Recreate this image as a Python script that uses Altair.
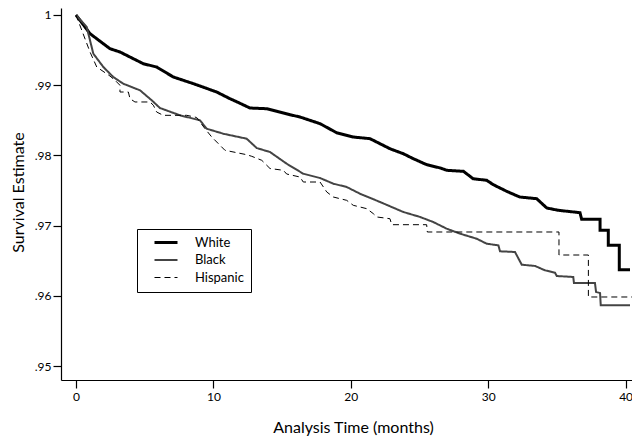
import altair as alt
import pandas as pd

groups = ["White", "Black", "Hispanic"]

white_t = [0, 1.02, 2.47, 3.2, 4.9, 5.87, 7.08, 8.54, 10.24, 11.2, 11.94, 12.66, 13.88, 15.57, 16.3,
           17.76, 18.97, 20.18, 21.4, 22.85, 23.82, 24.55, 25.52, 26.5, 26.98, 28.2, 28.9, 29.89,
           30.37, 31.35, 32.3, 33.53, 34.26, 35.1, 36.68, 36.8, 38.14, 38.14, 38.74, 38.74, 39.54,
           39.54, 40.32]
white_s = [1.0, .99734, .9952, .99473, .99306, .99259, .99117, .99022, .98903, .98808, .98742, .98675,
           .98665, .9858, .98547, .98452, .98323, .98262, .98238, .98095, .98024, .97953, .97868,
           .97821, .97788, .97773, .97668, .97645, .97583, .97488, .97407, .97383, .97251, .97218,
           .97184, .9709, .9709, .96933, .96933, .96719, .96719, .96372, .96372]

black_t = [0, .78, 1.26, 1.99, 2.71, 3.44, 4.66, 5.51, 6.11, 7.57, 9.02, 9.51, 10.72, 12.42, 13.15,
           14.12, 15.33, 16.54, 17.76, 18.73, 19.7, 20.67, 22.13, 23.82, 25.04, 26.0, 26.98, 27.95,
           29.16, 29.89, 30.74, 30.86, 31.95, 32.44, 33.41, 34.13, 34.86, 34.99, 36.19, 36.24, 37.77,
           37.85, 38.14, 38.19, 40.32]
black_s = [1.0, .99829, .99449, .99259, .99117, .99021, .98927, .98785, .98675, .98571, .985, .9838,
           .98309, .98238, .98105, .98048, .97882, .97739, .97678, .97597, .9755, .97454, .97336,
           .97194, .97123, .97051, .96956, .96885, .96813, .96742, .96719, .96634, .96624, .96443,
           .96425, .96363, .96329, .96282, .96268, .96182, .96182, .96054, .9604, .95865, .95865]

hisp_t = [0, 1.02, 1.51, 2.47, 2.84, 3.2, 3.2, 3.81, 3.93, 4.29, 5.39, 5.63, 5.87, 6.35, 8.06, 8.78,
          9.39, 9.88, 10.48, 10.84, 12.42, 12.79, 13.52, 14.12, 15.09, 15.33, 16.3, 16.54, 17.76,
          18.25, 18.73, 19.7, 20.18, 21.16, 21.64, 21.89, 22.85, 22.98, 25.52, 25.57, 35.15, 35.15,
          37.29, 37.29, 40.6]
hisp_s = [1.0, .99473, .99259, .99131, .9907, .98999, .98903, .98903, .98808, .98761, .98761, .98714,
          .98618, .98571, .98571, .9854, .9838, .98262, .98144, .98073, .9801, .97987, .9793, .97813,
          .97788, .97735, .97692, .97621, .97621, .97479, .97407, .9736, .97289, .97241, .9717,
          .97123, .97098, .97013, .97013, .96909, .96909, .96581, .96581, .95983, .95983]

y_ticks = [0.95, 0.96, 0.97, 0.98, 0.99, 1.0]
x_ticks = [0, 10, 20, 30, 40]

rows = []
for g, ts, ss in [("White", white_t, white_s), ("Black", black_t, black_s), ("Hispanic", hisp_t, hisp_s)]:
    for i, (t, s) in enumerate(zip(ts, ss)):
        rows.append({"group": g, "t": t, "s": s, "i": i})
df = pd.DataFrame(rows)

FONT = "Lato"

legend = alt.Legend(
    title=None, orient="none", legendX=76, legendY=221,
    symbolType="M-5.75,0H5.75", symbolSize=16, symbolOffset=15.5,
    labelFont=FONT, labelFontSize=13, labelColor="black", labelOffset=22.5,
    padding=7, strokeColor="black", fillColor="white", rowPadding=3.5,
)

chart = alt.Chart(df).mark_line(clip=True).encode(
    x=alt.X("t:Q", scale=alt.Scale(domain=[-1.092, 40.465], nice=False, zero=False),
            axis=alt.Axis(values=x_ticks, title="Analysis Time (months)", format="d",
                          titleX=292, titleY=52, titleBaseline="alphabetic",
                          titleFontSize=16, labelPadding=3)),
    y=alt.Y("s:Q", scale=alt.Scale(domain=[0.948006, 1.000997], nice=False, zero=False),
            axis=alt.Axis(values=y_ticks, title="Survival Estimate",
                          labelExpr="datum.value >= 1 ? '1' : replace(format(datum.value, '.2f'), '0.', '.')",
                          titleX=-38, titleY=184, titleAngle=270, titleBaseline="alphabetic",
                          titleAlign="center", titleFontSize=16, labelPadding=2)),
    color=alt.Color("group:N", scale=alt.Scale(domain=groups, range=["#000000", "#444444", "#000000"]),
                    legend=legend),
    strokeWidth=alt.StrokeWidth("group:N", scale=alt.Scale(domain=groups, range=[3, 1, 1.9]),
                                legend=legend),
    strokeDash=alt.StrokeDash("group:N", scale=alt.Scale(domain=groups, range=[[1, 0], [1, 0], [6, 4]]),
                              legend=legend),
    order=alt.Order("i:Q"),
).properties(
    width=571, height=372,
    padding={"left": 53, "top": 0, "right": 0, "bottom": 56},
    autosize=alt.AutoSizeParams(type="none"),
).configure_view(stroke=None).configure_axis(
    grid=False, domainColor="black", domainWidth=1.2, tickColor="black", tickWidth=1.2,
    tickSize=8, labelFont=FONT, labelFontSize=12, labelColor="black", titleFont=FONT,
    titleColor="black", titleFontWeight="normal",
)

chart.save("out.html", embed_options={"renderer": "svg", "actions": False})
